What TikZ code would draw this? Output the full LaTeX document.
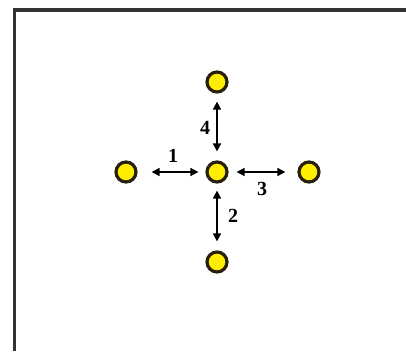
\documentclass[tikz,border=0pt]{standalone}
\usepackage{fontspec}
\setmainfont{Liberation Serif}
\usetikzlibrary{arrows.meta}
\definecolor{dotyellow}{RGB}{255,238,0}
\definecolor{dotrim}{RGB}{40,32,10}
\tikzset{
  dot/.style={circle,draw=dotrim,line width=3.2pt,fill=dotyellow,minimum size=20pt,inner sep=0pt},
  link/.style={line width=1.6pt,{Triangle[length=8pt,width=8pt]}-{Triangle[length=8pt,width=8pt]}},
  lbl/.style={font=\fontsize{20}{20}\selectfont\bfseries,inner sep=0pt}
}

\begin{document}
\begin{tikzpicture}[x=1pt,y=-1pt]
  \useasboundingbox (0,0) rectangle (406,351);
  \draw[line width=3.5pt,black!80] (406,10)--(14.5,10)--(14.5,351);
  \node[dot] (c) at (217,172) {};
  \node[dot] (l) at (126,172) {};
  \node[dot] (r) at (309,172) {};
  \node[dot] (t) at (217,82) {};
  \node[dot] (b) at (217,262) {};
  \draw[link,shorten <=14pt,shorten >=7pt] (l)--(c);
  \draw[link,shorten <=8pt,shorten >=12pt] (c)--(r);
  \draw[link,shorten <=8pt,shorten >=9pt] (t)--(c);
  \draw[link,shorten <=7pt,shorten >=9pt] (c)--(b);
  \node[lbl] (n1) at (173,156) {1};
  \node[lbl] (n2) at (233,216) {2};
  \node[lbl] (n3) at (262,189) {3};
  \node[lbl] (n4) at (205,128) {4};
\end{tikzpicture}
\end{document}
